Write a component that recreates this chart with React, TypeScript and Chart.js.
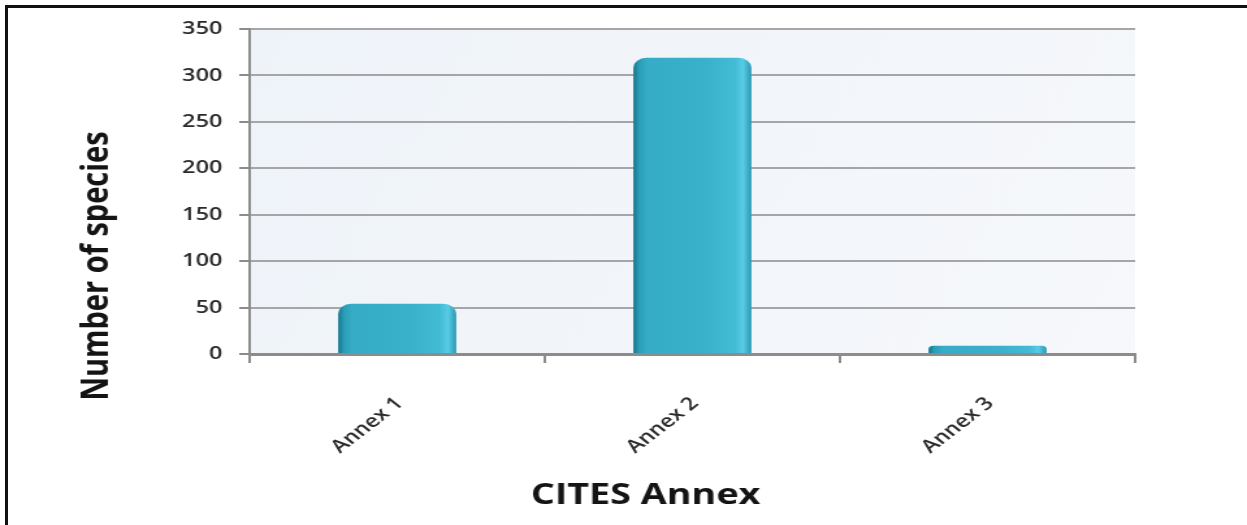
import React, { useEffect, useRef } from "react";
import { Chart, registerables } from "chart.js";

Chart.register(...registerables);

// ---- data ----
const categories = ["Annex 1", "Annex 2", "Annex 3"];
const speciesCounts = [54, 319, 9];
const yTickValues = [0, 50, 100, 150, 200, 250, 300, 350];
const yTitle = "Number of species";
const xTitle = "CITES Annex";

// The reference is horizontally stretched; draw on a narrower canvas and stretch it.
const CSS_W = 1247;
const CSS_H = 525;
const STRETCH = 1.3;
const CANVAS_W = Math.round(CSS_W / STRETCH);
const BAR_PCT = 0.4;
const FONT = '"Open Sans", "DejaVu Sans", sans-serif';

export default function App() {
  const ref = useRef<HTMLCanvasElement | null>(null);

  useEffect(() => {
    const canvas = ref.current;
    if (!canvas) return;

    const plotBg = {
      id: "plotBg",
      beforeDraw(chart: any) {
        const { ctx, chartArea: a } = chart;
        if (!a) return;
        ctx.save();
        const g = ctx.createLinearGradient(a.left, a.top, a.right, a.bottom);
        g.addColorStop(0, "#eef3f9");
        g.addColorStop(1, "#f6f8fb");
        ctx.fillStyle = g;
        ctx.fillRect(a.left, a.top, a.right - a.left, a.bottom - a.top);
        ctx.restore();
      },
    };

    const axisTitles = {
      id: "axisTitles",
      afterDraw(chart: any) {
        const { ctx, chartArea: a } = chart;
        ctx.save();
        ctx.fillStyle = "#141414";
        ctx.font = `bold 29px ${FONT}`;
        ctx.textAlign = "center";
        ctx.textBaseline = "alphabetic";
        const xCenter = (a.left + a.right) / 2 - 36;
        ctx.fillText(xTitle, xCenter, 504);
        ctx.translate(83, 266);
        ctx.rotate(-Math.PI / 2);
        ctx.fillText(yTitle, 0, 0);
        ctx.restore();
      },
    };

    const barFill = (c: any) => {
      const chart = c.chart;
      const xs = chart.scales?.x;
      if (!xs || c.dataIndex === undefined || !chart.chartArea) return "#38b0ca";
      const cx = xs.getPixelForValue(c.dataIndex);
      const w = (xs.width / categories.length) * BAR_PCT;
      const g = chart.ctx.createLinearGradient(cx - w / 2, 0, cx + w / 2, 0);
      g.addColorStop(0, "#16758b");
      g.addColorStop(0.05, "#2b9db7");
      g.addColorStop(0.12, "#36acc6");
      g.addColorStop(0.6, "#39b1cb");
      g.addColorStop(0.86, "#42bbd5");
      g.addColorStop(0.93, "#58cbe4");
      g.addColorStop(1, "#2a98b2");
      return g;
    };

    const chart = new Chart(canvas, {
      type: "bar",
      data: {
        labels: categories,
        datasets: [
          {
            data: speciesCounts,
            backgroundColor: barFill,
            borderWidth: 0,
            borderRadius: { topLeft: 10, topRight: 10, bottomLeft: 0, bottomRight: 0 },
            borderSkipped: "bottom",
            barPercentage: BAR_PCT,
            categoryPercentage: 1,
          },
        ],
      },
      options: {
        responsive: false,
        animation: false,
        devicePixelRatio: 1,
        layout: { padding: { top: 29, right: CANVAS_W - 873, left: 0, bottom: 0 } },
        plugins: {
          legend: { display: false },
          tooltip: { enabled: false },
          title: { display: false },
        },
        scales: {
          x: {
            offset: true,
            grid: {
              display: true,
              drawOnChartArea: false,
              drawTicks: true,
              tickLength: 9,
              color: "#8c8c8c",
              lineWidth: 2,
              offset: true,
            },
            border: { display: true, color: "#8c8c8c", width: 3 },
            ticks: {
              color: "#2a2a2a",
              font: { family: FONT, size: 18, weight: "600" },
              minRotation: 45,
              maxRotation: 45,
              padding: 30,
              labelOffset: 2,
            },
            afterFit: (s: any) => {
              s.height = CSS_H - 354;
            },
          },
          y: {
            min: 0,
            max: 350,
            afterBuildTicks: (s: any) => {
              s.ticks = yTickValues.map((v) => ({ value: v }));
            },
            ticks: {
              color: "#2a2a2a",
              font: { family: FONT, size: 18, weight: "600" },
              padding: 13,
            },
            grid: {
              color: "#a6a6a6",
              lineWidth: 2,
              tickLength: 8,
              tickColor: "#8c8c8c",
            },
            border: { display: true, color: "#8c8c8c", width: 2 },
            afterFit: (s: any) => {
              s.width = 192;
            },
          },
        },
      },
      plugins: [plotBg, axisTitles],
    });

    return () => chart.destroy();
  }, []);

  return (
    <>
      <canvas
        ref={ref}
        width={CANVAS_W}
        height={CSS_H}
        style={{
          position: "fixed",
          left: 0,
          top: 0,
          width: `${CSS_W}px`,
          height: `${CSS_H}px`,
          background: "#ffffff",
        }}
      />
      <div
        style={{
          position: "fixed",
          left: 5,
          top: 5,
          width: 1300,
          height: 600,
          borderTop: "3px solid #111",
          borderLeft: "3px solid #111",
          pointerEvents: "none",
        }}
      />
    </>
  );
}
